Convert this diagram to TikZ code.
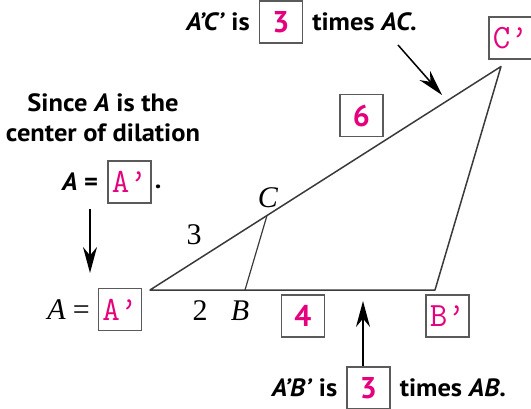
\documentclass[tikz,border=0pt]{standalone}
\usepackage{fontspec}
\setmainfont{Liberation Serif}
\setsansfont{PT Sans}
\usetikzlibrary{arrows.meta,positioning}
\definecolor{DilPink}{HTML}{E5007D}
\definecolor{DilLine}{HTML}{3A3A3A}
\definecolor{DilBox}{HTML}{5A5A5A}

\begin{document}
\begin{tikzpicture}[x=1pt,y=-1pt,
    node distance=8pt,
    answer/.style={draw=DilBox,line width=1.2pt,minimum width=43pt,
      minimum height=42pt,inner sep=0pt,text=DilPink},
    numbox/.style={answer,font=\sffamily\bfseries\fontsize{30}{32}\selectfont},
    ptbox/.style={answer,font=\ttfamily\fontsize{34}{36}\selectfont},
    note/.style={font=\sffamily\bfseries\addfontfeature{FakeStretch=1.06}%
      \fontsize{25}{30}\selectfont,inner sep=0pt,align=center},
    tag/.style={font=\fontsize{30}{32}\selectfont,inner sep=0pt},
    edgeline/.style={line width=1.5pt,draw=DilLine,line join=round},
    pointer/.style={-{Stealth[length=26pt,width=14pt]},line width=1.5pt}
  ]
    \useasboundingbox (0,0) rectangle (531,408);
    % triangles
    \coordinate (A) at (150,290);
    \coordinate (B) at (245,290);
    \coordinate (C) at (267,215.5);
    \coordinate (Bp) at (435,290);
    \coordinate (Cp) at (501,66.5);
    \draw[edgeline] (A) -- (Bp) -- (Cp) -- cycle;
    \draw[edgeline,line width=1.2pt] (B) -- (C);
    \node[tag] (Clab) at (268,198) {\itshape C};
    \node[tag] (ACval) at (194,235) {3};
    \node[tag] (ABval) at (200,311) {2};
    \node[tag] (Blab) at (240,311) {\itshape B};
    % answer boxes
    \node[numbox] (six) at (361.5,115.5) {6};
    \node[numbox] (four) at (303,316) {4};
    \node[ptbox] (Bimg) at (447.5,316) {B’};
    \node[ptbox] (Cimg) at (510.5,38) {C’};
    \node[ptbox] (Aimg) at (120,309.5) {A’};
    \node[tag,left=of Aimg] (Aeq) {\itshape A\hspace{7pt}\upshape =};
    % center of dilation note
    \node[note] (since) at (103,118) {Since \textit{A} is the\\center of dilation};
    \node[ptbox] (Aimgtop) at (129.5,182) {A’};
    \node[note,left=9pt of Aimgtop] (Aeqtop) {\textit{A} =};
    \node[note,right=3pt of Aimgtop,yshift=-5pt] (dot) {.};
    % scale factor sentences
    \node[numbox] (kone) at (281,22) {3};
    \node[note,left=9pt of kone] (ACone) {\textit{A’C’} is};
    \node[note,right=9pt of kone] (ACtwo) {times \textit{AC}.};
    \node[numbox] (ktwo) at (368.5,388) {3};
    \node[note,left=9pt of ktwo] (ABone) {\textit{A’B’} is};
    \node[note,right=9pt of ktwo] (ABtwo) {times \textit{AB}.};
    % pointers
    \coordinate (downtail) at (90,209);
    \coordinate (downtip) at (90,273);
    \coordinate (ctail) at (398,45);
    \coordinate (ctip) at (442,95);
    \coordinate (uptail) at (363,366);
    \coordinate (uptip) at (363,301);
    \draw[pointer] (downtail) -- (downtip);
    \draw[pointer] (ctail) -- (ctip);
    \draw[pointer] (uptail) -- (uptip);
  \end{tikzpicture}
\end{document}
